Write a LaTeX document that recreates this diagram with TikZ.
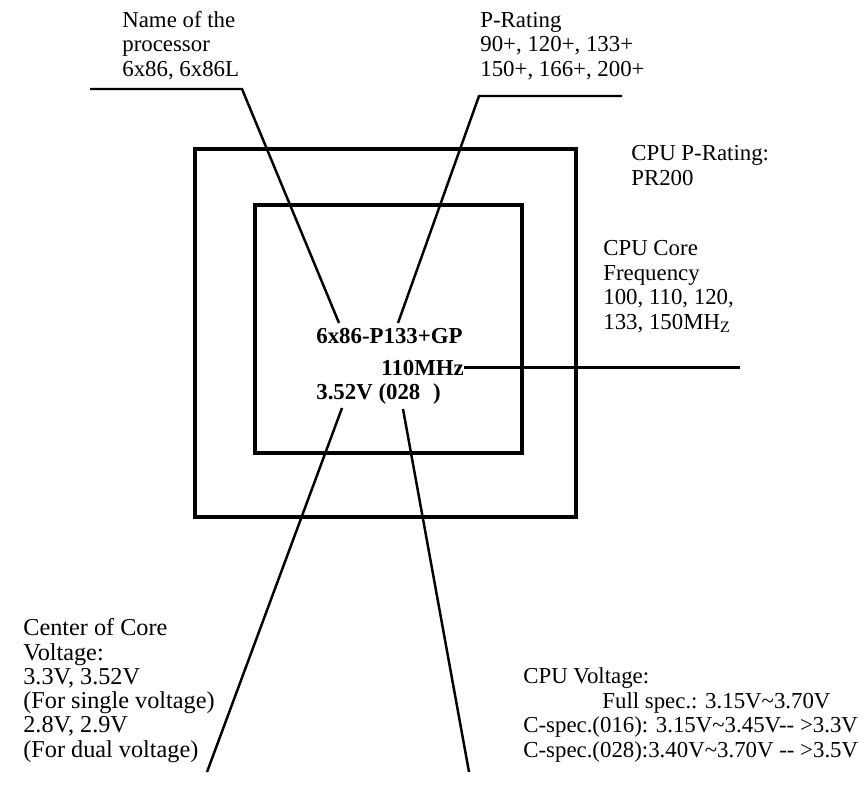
\documentclass[tikz,border=0pt]{standalone}
\usepackage{fontspec}
\setmainfont{Liberation Serif}
\usetikzlibrary{positioning}

\begin{document}
\begin{tikzpicture}[
    x=0.02cm, y=-0.02cm,
    outline/.style={draw, line width=1.8pt},
    leader/.style={line width=1.4pt},
    note/.style={anchor=base west, inner sep=0pt, align=left,
                 font=\fontsize{13}{13.9}\selectfont},
    chiptext/.style={anchor=base west, inner sep=0pt,
                     font=\fontsize{13}{13.9}\selectfont\bfseries},
]
\useasboundingbox (0,0) rectangle (865,801);

% Package outline
\draw[outline] (195,149) rectangle (576,517);
\draw[outline] (255,205) rectangle (522,453);

% Marking on the chip
\node[chiptext] (cname) at (316,343) {6x86-P133+GP};
\node[chiptext] (cfreq) at (381,375) {110MHz};
\node[chiptext] (cvolt) at (316,399) {3.52V (028\hspace{4pt} )};

% Notes (placed by the baseline of their last line)
\node[note] (nname) at (122,76) {Name of the\\processor\\6x86, 6x86L};
\node[note] (nrate) at (480,76) {P-Rating\\90+, 120+, 133+\\150+, 166+, 200+};
\node[note] (npr) at (631,185) {CPU P-Rating:\\PR200};
\node[note] (nfreq) at (603,329) {CPU Core\\Frequency\\100, 110, 120,\\133, 150MH\textsubscript{Z}};
\node[note, font=\fontsize{13.8}{13.8}\selectfont] (ncore) at (23,757)
    {Center of Core\\Voltage:\\3.3V, 3.52V\\(For single voltage)\\2.8V, 2.9V\\(For dual voltage)};
\node[note] (nvolt) at (523,757) {CPU Voltage:\\
    \hspace*{45pt}Full spec.: 3.15V\textasciitilde3.70V\\
    C-spec.(016): 3.15V\textasciitilde3.45V-{}- >3.3V\\
    C-spec.(028):3.40V\textasciitilde3.70V -{}- >3.5V};

% Leader lines
\coordinate (nameL) at (90,89);
\coordinate (nameK) at (242,89);
\coordinate (nameT) at (339,323);
\coordinate (rateR) at (622,96);
\coordinate (rateK) at (479,96);
\coordinate (rateT) at (398,323);
\coordinate (freqR) at (740,367);
\coordinate (voltA) at (342,408);
\coordinate (voltAB) at (207,772);
\coordinate (voltB) at (403,409);
\coordinate (voltBB) at (469,772);

\draw[leader] (nameL) -- (nameK) -- (nameT);
\draw[leader] (rateR) -- (rateK) -- (rateT);
\draw[leader] (cfreq.east) -- (cfreq.east -| freqR);
\draw[leader] (voltA) -- (voltAB);
\draw[leader] (voltB) -- (voltBB);

\end{tikzpicture}
\end{document}
